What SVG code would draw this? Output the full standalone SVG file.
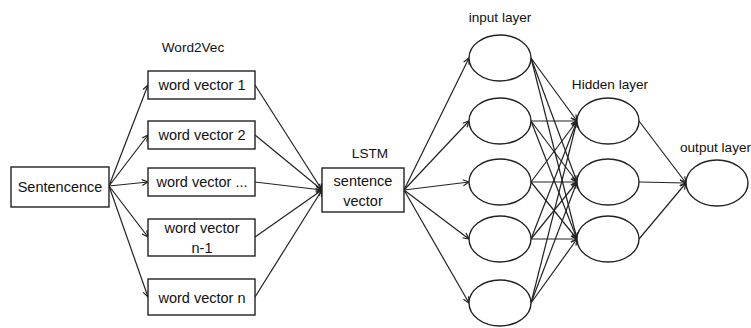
<svg xmlns="http://www.w3.org/2000/svg" width="751" height="328" viewBox="0 0 751 328">
<style>
.box{fill:#fff;stroke:#222;stroke-width:1.4}
.el{fill:#fff;stroke:#222;stroke-width:1.4}
.t{font-family:"Liberation Sans",Arial,sans-serif;font-size:14.5px;fill:#111;text-anchor:middle;dominant-baseline:central}
.lbl{font-family:"Liberation Sans",Arial,sans-serif;font-size:13.6px;fill:#111;text-anchor:middle;dominant-baseline:central}
.c line{stroke:#222;stroke-width:1.2;marker-end:url(#ah)}
</style>
<defs>
<marker id="ah" markerWidth="8" markerHeight="8" refX="7" refY="4" orient="auto" markerUnits="userSpaceOnUse">
<path d="M1,1 L7,4 L1,7" fill="none" stroke="#222" stroke-width="1.2"/>
</marker>
</defs>
<rect width="751" height="328" fill="#fff"/>
<g class="c" id="connectors">
<line x1="109" y1="186" x2="148" y2="85"/>
<line x1="109" y1="186" x2="148" y2="135"/>
<line x1="109" y1="186" x2="148" y2="182"/>
<line x1="109" y1="186" x2="148" y2="237"/>
<line x1="109" y1="186" x2="148" y2="297"/>
<line x1="255" y1="85" x2="322" y2="190"/>
<line x1="255" y1="135" x2="322" y2="190"/>
<line x1="255" y1="182" x2="322" y2="190"/>
<line x1="255" y1="237" x2="322" y2="190"/>
<line x1="255" y1="297" x2="322" y2="190"/>
<line x1="404" y1="190" x2="469" y2="58"/>
<line x1="404" y1="190" x2="469" y2="121"/>
<line x1="404" y1="190" x2="469" y2="182"/>
<line x1="404" y1="190" x2="469" y2="239"/>
<line x1="404" y1="190" x2="469" y2="303"/>
<line x1="531" y1="58" x2="577" y2="121"/>
<line x1="531" y1="58" x2="577" y2="182"/>
<line x1="531" y1="58" x2="577" y2="239"/>
<line x1="531" y1="121" x2="577" y2="121"/>
<line x1="531" y1="121" x2="577" y2="182"/>
<line x1="531" y1="121" x2="577" y2="239"/>
<line x1="531" y1="182" x2="577" y2="121"/>
<line x1="531" y1="182" x2="577" y2="182"/>
<line x1="531" y1="182" x2="577" y2="239"/>
<line x1="531" y1="239" x2="577" y2="121"/>
<line x1="531" y1="239" x2="577" y2="182"/>
<line x1="531" y1="239" x2="577" y2="239"/>
<line x1="531" y1="303" x2="577" y2="121"/>
<line x1="531" y1="303" x2="577" y2="182"/>
<line x1="531" y1="303" x2="577" y2="239"/>
<line x1="639" y1="121" x2="686" y2="183"/>
<line x1="639" y1="182" x2="686" y2="183"/>
<line x1="639" y1="239" x2="686" y2="183"/>
</g>
<g id="sentence"><rect class="box" x="11" y="167" width="98" height="40"/><text class="t" x="60" y="187">Sentencence</text></g>
<text class="lbl" x="193" y="47">Word2Vec</text>
<g id="wv1"><rect class="box" x="148" y="71" width="107" height="28"/><text class="t" x="202" y="85">word vector 1</text></g>
<g id="wv2"><rect class="box" x="148" y="121" width="107" height="28"/><text class="t" x="202" y="135">word vector 2</text></g>
<g id="wv3"><rect class="box" x="148" y="168" width="107" height="28"/><text class="t" x="202" y="182">word vector ...</text></g>
<g id="wv4"><rect class="box" x="148" y="219" width="107" height="37"/><text class="t" x="202" y="228">word vector</text><text class="t" x="202" y="248">n-1</text></g>
<g id="wv5"><rect class="box" x="148" y="279" width="107" height="36"/><text class="t" x="202" y="298">word vector n</text></g>
<text class="lbl" x="370" y="153">LSTM</text>
<g id="lstm"><rect class="box" x="322" y="168" width="82" height="44"/><text class="t" x="363" y="181">sentence</text><text class="t" x="363" y="201">vector</text></g>
<text class="lbl" x="500" y="17">input layer</text>
<g id="in1"><ellipse class="el" cx="500" cy="58" rx="31" ry="23"/></g>
<g id="in2"><ellipse class="el" cx="500" cy="121" rx="31" ry="23"/></g>
<g id="in3"><ellipse class="el" cx="500" cy="182" rx="31" ry="23"/></g>
<g id="in4"><ellipse class="el" cx="500" cy="239" rx="31" ry="23"/></g>
<g id="in5"><ellipse class="el" cx="500" cy="303" rx="31" ry="23"/></g>
<text class="lbl" x="610" y="84">Hidden layer</text>
<g id="h1"><ellipse class="el" cx="608" cy="121" rx="31" ry="23"/></g>
<g id="h2"><ellipse class="el" cx="608" cy="182" rx="31" ry="23"/></g>
<g id="h3"><ellipse class="el" cx="608" cy="239" rx="31" ry="23"/></g>
<text class="lbl" x="680" y="147" style="text-anchor:start">output layer</text>
<g id="out"><ellipse class="el" cx="717" cy="183" rx="31" ry="23"/></g>
</svg>
